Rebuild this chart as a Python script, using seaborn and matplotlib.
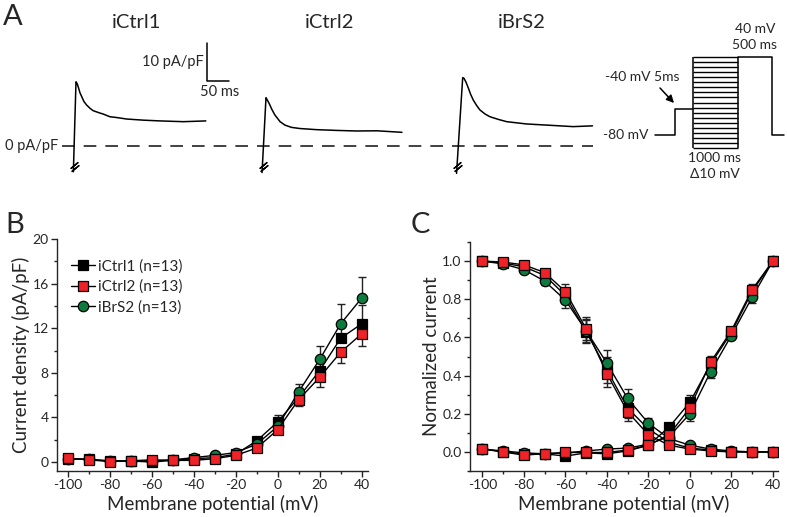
import numpy as np
import pandas as pd
import matplotlib
matplotlib.use("Agg")
import matplotlib.pyplot as plt
import seaborn as sns

# membrane potential steps (mV)
voltage = [-100, -90, -80, -70, -60, -50, -40, -30, -20, -10, 0, 10, 20, 30, 40]

# panel B: current density (pA/pF), mean and SEM
dens_ctrl1 = [0.3, 0.25, 0.1, 0.1, 0.0, 0.15, 0.3, 0.4, 0.7, 1.9, 3.6, 5.8, 8.2, 11.1, 12.4]
dens_ctrl2 = [0.35, 0.2, 0.05, 0.12, 0.2, 0.15, 0.15, 0.3, 0.6, 1.25, 2.9, 5.6, 7.6, 9.85, 11.5]
dens_brs2 = [0.3, 0.25, 0.1, 0.1, 0.1, 0.2, 0.4, 0.6, 0.85, 1.6, 3.2, 6.3, 9.2, 12.4, 14.7]
sem_ctrl1 = [0.1, 0.1, 0.1, 0.1, 0.1, 0.1, 0.1, 0.15, 0.2, 0.35, 0.6, 0.8, 1.0, 1.3, 1.7]
sem_ctrl2 = [0.1, 0.1, 0.1, 0.1, 0.1, 0.1, 0.1, 0.1, 0.15, 0.25, 0.35, 0.6, 0.9, 1.0, 1.1]
sem_brs2 = [0.1, 0.1, 0.1, 0.1, 0.1, 0.1, 0.1, 0.15, 0.2, 0.3, 0.5, 0.7, 1.2, 1.8, 1.9]

# panel C: normalized inactivation / activation
inact_ctrl1 = [1.0, 0.99, 0.97, 0.925, 0.82, 0.63, 0.43, 0.23, 0.12, 0.05, 0.02, 0.01, 0.0, 0.0, 0.0]
inact_ctrl2 = [1.0, 0.995, 0.98, 0.94, 0.84, 0.645, 0.41, 0.21, 0.09, 0.035, 0.015, 0.005, 0.0, 0.0, 0.0]
inact_brs2 = [1.0, 0.985, 0.955, 0.895, 0.795, 0.635, 0.465, 0.28, 0.15, 0.07, 0.035, 0.015, 0.005, 0.0, 0.0]
inact_sem = [0.0, 0.01, 0.015, 0.02, 0.04, 0.06, 0.07, 0.05, 0.03, 0.02, 0.01, 0.005, 0.0, 0.0, 0.0]
act_ctrl1 = [0.015, 0.0, -0.01, -0.01, -0.022, -0.005, -0.01, 0.005, 0.035, 0.13, 0.26, 0.46, 0.625, 0.84, 1.0]
act_ctrl2 = [0.017, 0.0, -0.017, -0.009, -0.003, -0.003, -0.003, 0.01, 0.035, 0.09, 0.23, 0.47, 0.635, 0.85, 1.0]
act_brs2 = [0.015, 0.005, -0.005, -0.01, -0.005, 0.005, 0.015, 0.02, 0.04, 0.08, 0.2, 0.42, 0.61, 0.81, 1.0]
act_sem = [0.0, 0.005, 0.005, 0.005, 0.005, 0.005, 0.005, 0.005, 0.01, 0.02, 0.04, 0.035, 0.02, 0.03, 0.0]

# panel A: representative traces (time from peak in ms, current in pA/pF)
trace_t_ctrl1 = [-6, 0, 3, 6, 9, 13, 18, 24, 32, 39, 51, 62, 77, 92, 115, 153, 191, 244, 295]
trace_i_ctrl1 = [-6.8, 16.9, 16.3, 15.2, 14.0, 13.0, 11.7, 10.8, 9.9, 9.3, 8.8, 8.4, 7.7, 7.5, 7.1, 6.8, 6.6, 6.4, 6.6]
trace_t_ctrl2 = [-9, 0, 3, 8, 13, 20, 32, 43, 58, 77, 115, 161, 206, 252, 309]
trace_i_ctrl2 = [-7.0, 12.7, 12.1, 11.0, 9.7, 8.2, 6.4, 5.5, 4.9, 4.6, 4.3, 4.1, 3.95, 4.0, 3.6]
trace_t_brs2 = [-14, 0, 3, 7.5, 13, 18, 24, 32, 39, 51, 62, 81, 100, 145, 191, 251, 295]
trace_i_brs2 = [-7.2, 18.0, 17.8, 16.8, 15.2, 13.6, 12.1, 10.6, 9.5, 8.4, 7.7, 7.0, 6.4, 5.8, 5.5, 5.1, 5.3]

groups = ["iCtrl1", "iCtrl2", "iBrS2"]
n_cells = [13, 13, 13]
colors = {"iCtrl1": "black", "iCtrl2": "#ee2227", "iBrS2": "#0d7b3e"}
markers = {"iCtrl1": "s", "iCtrl2": "s", "iBrS2": "o"}

sns.set_theme(style="ticks")
plt.rcParams["font.family"] = ["Lato", "DejaVu Sans"]
plt.rcParams["axes.unicode_minus"] = False
plt.rcParams["axes.linewidth"] = 1.0

W, H = 787, 517
fig = plt.figure(figsize=(W / 100, H / 100), dpi=100)


def px_axes(x0, y0, x1, y1):
    return fig.add_axes([x0 / W, 1 - y1 / H, (x1 - x0) / W, (y1 - y0) / H])


def style_axes(ax):
    sns.despine(ax=ax)
    ax.tick_params(which="major", direction="out", length=4, width=1, labelsize=10, pad=2, color="#222222")
    ax.tick_params(which="minor", direction="out", length=2.5, width=1, color="#222222")
    ax.set_xticks([-100, -80, -60, -40, -20, 0, 20, 40])
    ax.set_xticks(voltage, minor=True)
    ax.set_xlabel("Membrane potential (mV)", fontsize=13.5, labelpad=2.5)


def draw_series(ax, y, err, g, label=None, err_dir="both"):
    err = np.asarray(err)
    if err_dir == "up":
        yerr = [np.zeros_like(err), err]
    elif err_dir == "down":
        yerr = [err, np.zeros_like(err)]
    else:
        yerr = err
    ax.errorbar(voltage, y, yerr=yerr, fmt="none", ecolor="#222222", elinewidth=1, capsize=3, capthick=1, zorder=1)
    sns.lineplot(x=voltage, y=y, ax=ax, color="black", lw=1, marker=markers[g],
                 markersize=7 if markers[g] == "s" else 7.5, markerfacecolor=colors[g],
                 markeredgecolor="black", markeredgewidth=0.9, label=label, legend=False, zorder=2)


# ---------------- panel A: traces ----------------
px_per_ms, px_per_pa, zero_px = 0.44, 3.8, 146
ax_tr = px_axes(0, 30, 610, 185)
ax_tr.set_xlim(0, 610 / px_per_ms)
ax_tr.set_ylim((zero_px - 185) / px_per_pa, (zero_px - 30) / px_per_pa)
ax_tr.axis("off")

onsets = [76 / px_per_ms, 266 / px_per_ms, 462.7 / px_per_ms]
traces = [(trace_t_ctrl1, trace_i_ctrl1), (trace_t_ctrl2, trace_i_ctrl2), (trace_t_brs2, trace_i_brs2)]
ax_tr.hlines(0, 62 / px_per_ms, 593 / px_per_ms, colors="#333333", lw=1.3, linestyles=(0, (7, 5)))
for g, t0, (tt, ii) in zip(groups, onsets, traces):
    sns.lineplot(x=np.asarray(tt) + t0, y=ii, ax=ax_tr, color="black", lw=1.1, sort=False, estimator=None)
    tb = t0 + tt[0] + 2
    ax_tr.plot([tb, tb + 1.5], [-5.0, -5.9], ls="none", marker=(2, 2, -50), ms=7, mec="black", mew=1)

# scale bar 10 pA/pF x 50 ms
sb_x, sb_y = 207 / px_per_ms, (zero_px - 81) / px_per_pa
ax_tr.plot([sb_x, sb_x, sb_x + 50], [sb_y + 10, sb_y, sb_y], color="black", lw=1.1)
ax_tr.text(sb_x - 8, sb_y + 5, "10 pA/pF", ha="right", va="center", fontsize=10.5)
ax_tr.text(sb_x + 28, sb_y - 3, "50 ms", ha="center", va="center", fontsize=10.5)
ax_tr.text(58 / px_per_ms, 0, "0 pA/pF", ha="right", va="center", fontsize=10.5)

for g, xc in zip(groups, [137, 330, 522]):
    fig.text(xc / W, 1 - 23 / H, g, ha="center", va="center", fontsize=14.5)

# voltage protocol
hold_mv, pre_mv, test_mv = -80, -40, 40
cond_levels = np.linspace(-100, 40, 19)
ax_pr = px_axes(600, 20, 787, 185)
ax_pr.set_xlim(600, 787)
mv_px = 0.65
ax_pr.set_ylim(hold_mv - (185 - 135) / mv_px, hold_mv + (135 - 20) / mv_px)
ax_pr.axis("off")
xa, xb, xc_, xd, xe, xf = 655, 675, 693, 738, 772, 784
ax_pr.plot([xa, xb, xb, xc_], [hold_mv, hold_mv, pre_mv, pre_mv], color="black", lw=1.1)
ax_pr.plot([xd, xe, xe, xf], [test_mv, test_mv, hold_mv, hold_mv], color="black", lw=1.1)
ax_pr.hlines(cond_levels, xc_, xd, colors="black", lw=1.0)
ax_pr.vlines([xc_, xd], cond_levels[0], cond_levels[-1], colors="black", lw=1.1)
fs_p = 10
ax_pr.text(755, hold_mv + (135 - 29) / mv_px, "40 mV", ha="center", va="center", fontsize=fs_p)
ax_pr.text(755, hold_mv + (135 - 45) / mv_px, "500 ms", ha="center", va="center", fontsize=fs_p)
ax_pr.text(642, hold_mv + (135 - 77) / mv_px, "-40 mV 5ms", ha="center", va="center", fontsize=fs_p)
ax_pr.text(648, hold_mv, "-80 mV", ha="right", va="center", fontsize=fs_p)
ax_pr.text(715, hold_mv - (158 - 135) / mv_px, "1000 ms", ha="center", va="center", fontsize=fs_p)
ax_pr.text(715, hold_mv - (174 - 135) / mv_px, "\u039410 mV", ha="center", va="center", fontsize=fs_p)
ax_pr.annotate("", xy=(674, hold_mv + (135 - 103) / mv_px), xytext=(660, hold_mv + (135 - 88) / mv_px),
               arrowprops=dict(arrowstyle="-|>", color="black", lw=1.1, mutation_scale=11,
                               shrinkA=0, shrinkB=0))

# ---------------- panel B ----------------
ax_b = px_axes(57, 239, 368, 471)
draw_series(ax_b, dens_ctrl1, sem_ctrl1, "iCtrl1", "iCtrl1 (n=%d)" % n_cells[0], "up")
draw_series(ax_b, dens_brs2, sem_brs2, "iBrS2", "iBrS2 (n=%d)" % n_cells[2], "up")
draw_series(ax_b, dens_ctrl2, sem_ctrl2, "iCtrl2", "iCtrl2 (n=%d)" % n_cells[1], "down")
ax_b.set_xlim(-105, 43)
ax_b.set_ylim(-0.8, 20)
ax_b.set_yticks([0, 4, 8, 12, 16, 20])
ax_b.set_yticks(np.arange(0, 21, 2), minor=True)
style_axes(ax_b)
ax_b.set_ylabel("Current density (pA/pF)", fontsize=13.5, labelpad=2)
h, l = ax_b.get_legend_handles_labels()
order = [l.index("iCtrl1 (n=13)"), l.index("iCtrl2 (n=13)"), l.index("iBrS2 (n=13)")]
ax_b.legend([h[i] for i in order], [l[i] for i in order], loc="upper left", bbox_to_anchor=(0.02, 0.945),
            frameon=False, fontsize=11, handlelength=1.6, handletextpad=0.2, labelspacing=0.4, borderpad=0)

# ---------------- panel C ----------------
ax_c = px_axes(470, 242, 778, 471)
draw_series(ax_c, inact_ctrl1, inact_sem, "iCtrl1")
draw_series(ax_c, act_ctrl1, act_sem, "iCtrl1")
draw_series(ax_c, inact_brs2, inact_sem, "iBrS2")
draw_series(ax_c, act_brs2, act_sem, "iBrS2")
draw_series(ax_c, inact_ctrl2, inact_sem, "iCtrl2")
draw_series(ax_c, act_ctrl2, act_sem, "iCtrl2")
ax_c.set_xlim(-106, 42.5)
ax_c.set_ylim(-0.1, 1.094)
ax_c.set_yticks([0.0, 0.2, 0.4, 0.6, 0.8, 1.0])
ax_c.set_yticks(np.arange(-0.1, 1.1, 0.1), minor=True)
ax_c.yaxis.set_major_formatter(matplotlib.ticker.FormatStrFormatter("%.1f"))
style_axes(ax_c)
ax_c.set_ylabel("Normalized current", fontsize=13.5, labelpad=2)

# panel letters
fig.text(13 / W, 1 - 17 / H, "A", ha="center", va="center", fontsize=21)
fig.text(15 / W, 1 - 225 / H, "B", ha="center", va="center", fontsize=21)
fig.text(420 / W, 1 - 225 / H, "C", ha="center", va="center", fontsize=21)

fig.savefig("out.png", dpi=100)
